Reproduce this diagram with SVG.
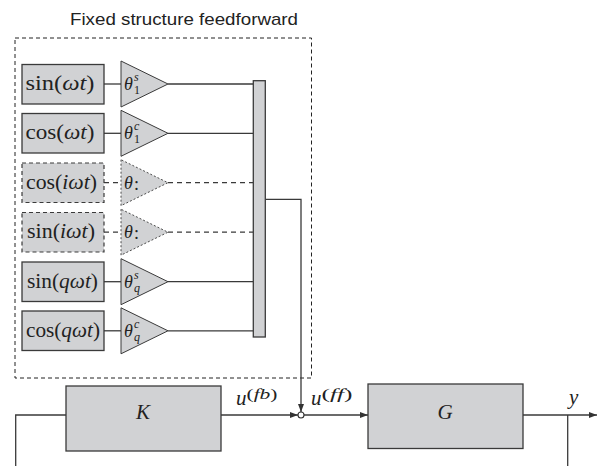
<svg xmlns="http://www.w3.org/2000/svg" width="598" height="466" viewBox="0 0 598 466">
  <defs>
    <marker id="arr" viewBox="0 0 8 6" refX="8" refY="3" markerWidth="8" markerHeight="6" markerUnits="userSpaceOnUse" orient="auto">
      <path d="M0,0 L8,3 L0,6 Z" fill="#333"/>
    </marker>
  </defs>
  <style>
    .blk { fill: #d1d2d4; stroke: #3a3a3a; stroke-width: 1.3; }
    .blkd { fill: #d1d2d4; stroke: #3a3a3a; stroke-width: 1.2; stroke-dasharray: 4 3; }
    .tri { fill: #d1d2d4; stroke: #3a3a3a; stroke-width: 1; }
    .trid { fill: #d1d2d4; stroke: #3a3a3a; stroke-width: 0.9; stroke-dasharray: 2 2; }
    .ln { fill: none; stroke: #3a3a3a; stroke-width: 1.3; }
    .lnd { fill: none; stroke: #3a3a3a; stroke-width: 1.3; stroke-dasharray: 5 4; }
    .frame { fill: none; stroke: #222; stroke-width: 1; stroke-dasharray: 4 3; }
    .m { font-family: "Liberation Serif", "DejaVu Serif", serif; fill: #222; }
    .it { font-style: italic; }
    .up { font-style: normal; }
    .gl { font-family: "Liberation Serif", "DejaVu Serif", serif; fill: #222; font-style: italic; font-size: 18px; }
    .gl tspan { font-size: 12px; }
    .gl tspan.dots { font-size: 18px; font-style: normal; }
    .title { font-family: "Liberation Sans", Arial, sans-serif; font-size: 17px; fill: #222; }
  </style>

  <!-- feedforward frame and title -->
  <g id="frame">
    <rect class="frame" x="15" y="38" width="296.5" height="340"/>
    <text class="title" x="70" y="25" textLength="228" lengthAdjust="spacingAndGlyphs">Fixed structure feedforward</text>
  </g>

  <!-- connectors -->
  <g id="connectors">
    <line class="ln" x1="104" y1="84" x2="121" y2="84"/>
    <line class="ln" x1="168" y1="84" x2="253" y2="84"/>
    <line class="ln" x1="104" y1="133.3" x2="121" y2="133.3"/>
    <line class="ln" x1="168" y1="133.3" x2="253" y2="133.3"/>
    <line class="lnd" x1="104" y1="182.7" x2="121" y2="182.7"/>
    <line class="lnd" x1="168" y1="182.7" x2="253" y2="182.7"/>
    <line class="lnd" x1="104" y1="232.2" x2="121" y2="232.2"/>
    <line class="lnd" x1="168" y1="232.2" x2="253" y2="232.2"/>
    <line class="ln" x1="104" y1="281.7" x2="121" y2="281.7"/>
    <line class="ln" x1="168" y1="281.7" x2="253" y2="281.7"/>
    <line class="ln" x1="104" y1="330.8" x2="121" y2="330.8"/>
    <line class="ln" x1="168" y1="330.8" x2="253" y2="330.8"/>
    <!-- feedforward sum to junction -->
    <polyline class="ln" points="265.5,199.3 301,199.3 301,412" marker-end="url(#arr)"/>
    <!-- feedback path -->
    <polyline class="ln" points="15.7,466 15.7,415 66,415"/>
    <line class="ln" x1="221" y1="415" x2="298" y2="415" marker-end="url(#arr)"/>
    <line class="ln" x1="304" y1="415" x2="368" y2="415" marker-end="url(#arr)"/>
    <line class="ln" x1="523" y1="415" x2="597" y2="415" marker-end="url(#arr)"/>
    <line class="ln" x1="567.7" y1="415" x2="567.7" y2="466"/>
    <circle cx="301" cy="415" r="3" fill="#fff" stroke="#333" stroke-width="1.1"/>
  </g>

  <!-- harmonic generators -->
  <g id="sin1">
    <rect class="blk" x="22" y="64.5" width="82" height="39.5"/>
    <text class="m" x="25.5" y="90" font-size="20" textLength="69" lengthAdjust="spacingAndGlyphs">sin(<tspan class="it">ωt</tspan>)</text>
  </g>
  <g id="cos1">
    <rect class="blk" x="22" y="113.5" width="82" height="39.5"/>
    <text class="m" x="25.5" y="139" font-size="20" textLength="69" lengthAdjust="spacingAndGlyphs">cos(<tspan class="it">ωt</tspan>)</text>
  </g>
  <g id="cosi">
    <rect class="blkd" x="22" y="163" width="82" height="39.5"/>
    <text class="m" x="26" y="188.5" font-size="20" textLength="71" lengthAdjust="spacingAndGlyphs">cos(<tspan class="it">iωt</tspan>)</text>
  </g>
  <g id="sini">
    <rect class="blkd" x="22" y="212.5" width="82" height="39.5"/>
    <text class="m" x="27" y="238" font-size="20" textLength="68" lengthAdjust="spacingAndGlyphs">sin(<tspan class="it">iωt</tspan>)</text>
  </g>
  <g id="sinq">
    <rect class="blk" x="22" y="262" width="82" height="39.5"/>
    <text class="m" x="27" y="287.5" font-size="20" textLength="71" lengthAdjust="spacingAndGlyphs">sin(<tspan class="it">qωt</tspan>)</text>
  </g>
  <g id="cosq">
    <rect class="blk" x="22" y="311" width="82" height="39.5"/>
    <text class="m" x="26" y="336.5" font-size="20" textLength="74" lengthAdjust="spacingAndGlyphs">cos(<tspan class="it">qωt</tspan>)</text>
  </g>

  <!-- gains -->
  <g id="gain1s">
    <polygon class="tri" points="121,61 121,107 168,84"/>
    <text class="gl" x="124" y="90">θ<tspan x="134" dy="-9">s</tspan><tspan class="up" x="134" dy="13">1</tspan></text>
  </g>
  <g id="gain1c">
    <polygon class="tri" points="121,110.3 121,156.3 168,133.3"/>
    <text class="gl" x="124" y="139.3">θ<tspan x="134" dy="-9">c</tspan><tspan class="up" x="134" dy="13">1</tspan></text>
  </g>
  <g id="gaini1">
    <polygon class="trid" points="121,159.7 121,205.7 168,182.7"/>
    <text class="gl" x="124" y="188.7">θ<tspan class="dots" x="134" dy="1">:</tspan></text>
  </g>
  <g id="gaini2">
    <polygon class="trid" points="121,209.2 121,255.2 168,232.2"/>
    <text class="gl" x="124" y="238.2">θ<tspan class="dots" x="134" dy="1">:</tspan></text>
  </g>
  <g id="gainqs">
    <polygon class="tri" points="121,258.7 121,304.7 168,281.7"/>
    <text class="gl" x="124" y="287.7">θ<tspan x="134" dy="-9">s</tspan><tspan x="134" dy="13">q</tspan></text>
  </g>
  <g id="gainqc">
    <polygon class="tri" points="121,307.8 121,353.8 168,330.8"/>
    <text class="gl" x="124" y="336.8">θ<tspan x="134" dy="-9">c</tspan><tspan x="134" dy="13">q</tspan></text>
  </g>

  <!-- summation bar -->
  <g id="mux">
    <rect class="blk" x="253.3" y="80.7" width="12" height="256.3"/>
  </g>

  <!-- loop blocks -->
  <g id="K">
    <rect class="blk" x="66" y="386" width="155" height="65"/>
    <text class="m it" x="143" y="418.5" font-size="21" text-anchor="middle">K</text>
  </g>
  <g id="G">
    <rect class="blk" x="368" y="384" width="155" height="64.5"/>
    <text class="m it" x="445" y="418.5" font-size="21" text-anchor="middle">G</text>
  </g>

  <!-- signal labels -->
  <g id="labels">
    <text class="m it" x="236" y="405" font-size="21">u</text>
    <text class="m" x="246.5" y="399" font-size="14" textLength="31" lengthAdjust="spacingAndGlyphs">(<tspan class="it">fb</tspan>)</text>
    <text class="m it" x="311" y="405" font-size="21">u</text>
    <text class="m" x="321.5" y="399" font-size="14" textLength="31" lengthAdjust="spacingAndGlyphs">(<tspan class="it">ff</tspan>)</text>
    <text class="m it" x="569" y="404" font-size="21">y</text>
  </g>
</svg>
